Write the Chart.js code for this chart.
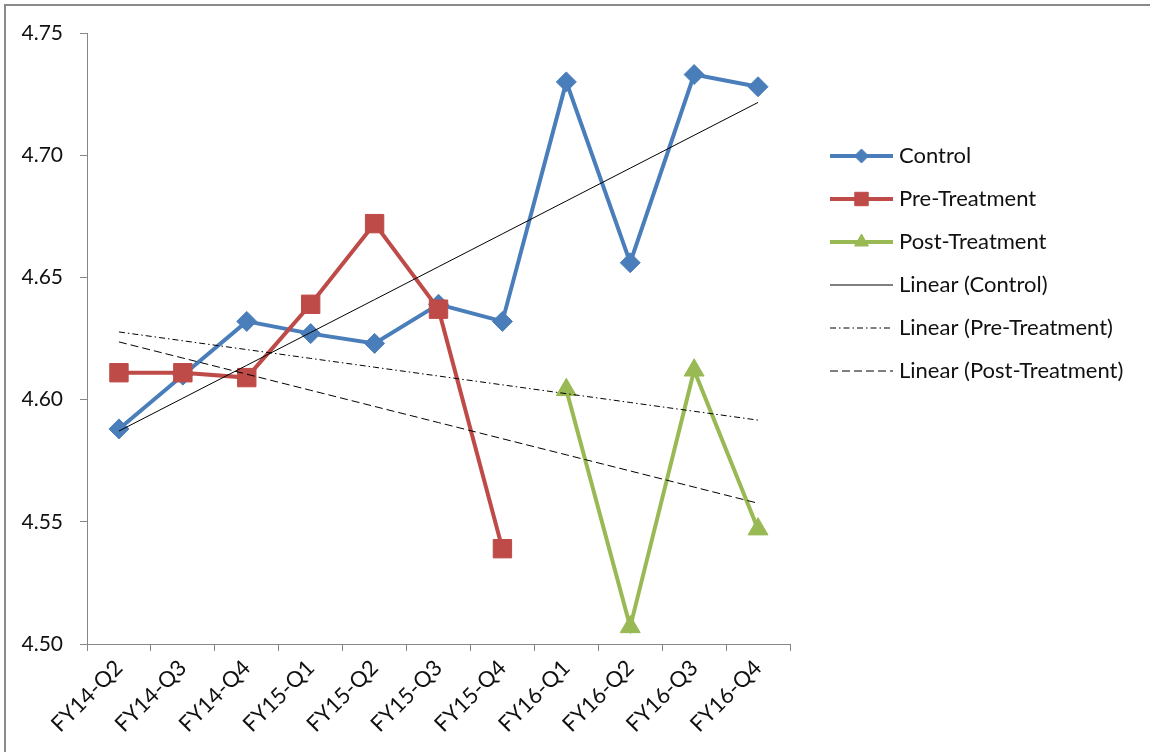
<!DOCTYPE html>
<html>
<head>
<meta charset="utf-8">
<title>Control vs Treatment</title>
<script src="https://cdn.jsdelivr.net/npm/chart.js@4.4.1/dist/chart.umd.min.js"></script>
<style>
  html, body { margin: 0; padding: 0; background: #fff; overflow: hidden; }
  .frame {
    position: absolute; left: 4px; top: 4px;
    width: 1300px; height: 900px;
    border: 2px solid #8a8a8a;
  }
  .chart-box { position: absolute; left: 0; top: 0; width: 1150px; height: 752px; }
</style>
</head>
<body>
<div class="frame"></div>
<div class="chart-box"><canvas id="scoreChart"></canvas></div>

<script>
// ------------------------------------------------------------
// Quarterly scores: control group vs pre/post treatment
// ------------------------------------------------------------

const quarters = ['FY14-Q2', 'FY14-Q3', 'FY14-Q4', 'FY15-Q1', 'FY15-Q2', 'FY15-Q3',
                  'FY15-Q4', 'FY16-Q1', 'FY16-Q2', 'FY16-Q3', 'FY16-Q4']

const controlScores = [4.588, 4.610, 4.632, 4.627, 4.623, 4.639, 4.632, 4.730, 4.656, 4.733, 4.728]
const preScores     = [4.611, 4.611, 4.609, 4.639, 4.672, 4.637, 4.539, null, null, null, null]
const postScores    = [null, null, null, null, null, null, null, 4.604, 4.507, 4.612, 4.547]

const yTicks = [4.50, 4.55, 4.60, 4.65, 4.70, 4.75]

const FONT = 'Lato, "Open Sans", sans-serif'
const BLUE  = '#4a7ebb'
const RED   = '#be4b48'
const GREEN = '#98b954'

// least-squares line over the non-empty points, drawn across every quarter
function linearTrend(values) {
  const pts = values.map((v, i) => [i + 1, v]).filter(p => p[1] != null)
  const n = pts.length
  const mx = pts.reduce((s, p) => s + p[0], 0) / n
  const my = pts.reduce((s, p) => s + p[1], 0) / n
  let sxy = 0, sxx = 0
  pts.forEach(([x, y]) => { sxy += (x - mx) * (y - my); sxx += (x - mx) * (x - mx) })
  const slope = sxy / sxx
  return values.map((_, i) => my + slope * (i + 1 - mx))
}

function series(label, data, color, pointStyle, radius, order) {
  return {
    label, data, order,
    borderColor: color, backgroundColor: color,
    borderWidth: 4, tension: 0, spanGaps: false,
    pointStyle, pointRadius: radius, pointHoverRadius: radius,
    pointBackgroundColor: color, pointBorderColor: color, pointBorderWidth: 1,
    legendRadius: pointStyle === 'rect' ? 9.5 : (pointStyle === 'triangle' ? 8 : 7),
  }
}

function trend(label, values, dash) {
  return {
    label, data: linearTrend(values), order: 0,
    borderColor: '#000', borderWidth: 1, borderDash: dash,
    pointRadius: 0, pointHoverRadius: 0, tension: 0,
  }
}

// legend drawn as in the office chart: line sample with marker, then label
const sideLegend = {
  id: 'sideLegend',
  afterDraw(chart) {
    const ctx = chart.ctx
    const x0 = 830, x1 = 893, textX = 899
    const top = 156, step = 43
    ctx.save()
    chart.data.datasets.forEach((ds, i) => {
      const y = top + i * step
      ctx.beginPath()
      ctx.setLineDash(ds.borderDash || [])
      ctx.strokeStyle = ds.borderColor
      ctx.lineWidth = ds.borderWidth
      ctx.moveTo(x0, y)
      ctx.lineTo(x1, y)
      ctx.stroke()
      ctx.setLineDash([])
      if (ds.pointStyle) {
        ctx.fillStyle = ds.pointBackgroundColor
        ctx.strokeStyle = ds.pointBorderColor
        ctx.lineWidth = 1
        Chart.helpers.drawPoint(ctx, { pointStyle: ds.pointStyle, radius: ds.legendRadius, borderWidth: 1 }, (x0 + x1) / 2, y)
      }
      ctx.fillStyle = '#111'
      ctx.font = '22px ' + FONT
      ctx.textAlign = 'left'
      ctx.textBaseline = 'middle'
      ctx.fillText(ds.label, textX, y)
    })
    ctx.restore()
  }
}

new Chart(document.getElementById('scoreChart'), {
  type: 'line',
  data: {
    labels: quarters,
    datasets: [
      series('Control', controlScores, BLUE, 'rectRot', 10, 3),
      series('Pre-Treatment', preScores, RED, 'rect', 13, 2),
      series('Post-Treatment', postScores, GREEN, 'triangle', 11.5, 1),
      trend('Linear (Control)', controlScores, []),
      trend('Linear (Pre-Treatment)', preScores, [6, 3, 1.5, 3]),
      trend('Linear (Post-Treatment)', postScores, [8, 4]),
    ]
  },
  options: {
    responsive: true, maintainAspectRatio: false, animation: false,
    layout: { padding: { left: 0, top: 33, right: 360, bottom: 0 } },
    plugins: { legend: { display: false }, tooltip: { enabled: false } },
    scales: {
      x: {
        offset: true,
        grid: { offset: true, drawOnChartArea: false, drawTicks: true, tickLength: 7, color: '#868686' },
        border: { display: true, color: '#868686', width: 1 },
        ticks: { color: '#111', font: { family: FONT, size: 22 }, minRotation: 45, maxRotation: 45, padding: 4, autoSkip: false },
        afterFit: s => { s.height = 108 },
      },
      y: {
        min: 4.5, max: 4.75,
        afterBuildTicks: s => { s.ticks = yTicks.map(v => ({ value: v })) },
        grid: { drawOnChartArea: false, drawTicks: true, tickLength: 7, color: '#868686' },
        border: { display: true, color: '#868686', width: 1 },
        ticks: { color: '#111', font: { family: FONT, size: 21 }, padding: 17, callback: v => v.toFixed(2) },
        afterFit: s => { s.width = 87 },
      },
    },
  },
  plugins: [sideLegend],
})
</script>
</body>
</html>
